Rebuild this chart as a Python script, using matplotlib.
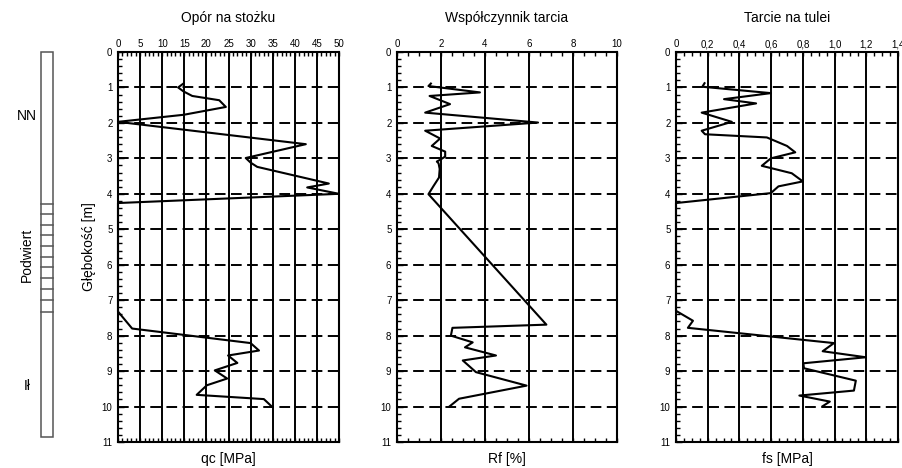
import matplotlib
matplotlib.use("Agg")
import matplotlib.pyplot as plt
from matplotlib.ticker import MultipleLocator, FixedLocator, FixedFormatter
from matplotlib.patches import Rectangle
import matplotlib.transforms as mtransforms

plt.rcParams['font.family'] = ['Liberation Sans', 'DejaVu Sans']

# ---------------- data ----------------
qc_depth = [0.89, 1.00, 1.11, 1.24, 1.36, 1.55, 1.77, 1.97, 2.60, 2.99, 3.12, 3.24,
            3.71, 3.82, 4.00, 4.26, 7.32, 7.80, 8.21, 8.42, 8.56, 8.77, 8.98, 9.21,
            9.40, 9.67, 9.79, 10.00]
qc = [14.8, 13.6, 14.8, 16.8, 22.9, 24.4, 14.9, 0.0, 42.5, 28.9, 30.0, 31.5,
      47.7, 42.8, 50.0, 0.0, 0.0, 3.2, 30.0, 31.9, 24.9, 27.0, 21.9, 24.7,
      20.1, 17.8, 33.0, 34.8]

rf_depth = [0.89, 0.96, 1.14, 1.24, 1.47, 1.71, 1.99, 2.22, 2.44, 2.65, 2.81, 2.95,
            3.04, 3.09, 3.14, 3.30, 3.54, 3.78, 4.01, 7.69, 7.78, 8.00, 8.19, 8.33,
            8.56, 8.70, 9.03, 9.41, 9.78, 10.00]
rf = [1.54, 1.43, 3.77, 1.48, 2.41, 1.28, 6.41, 1.28, 1.96, 1.58, 2.19, 2.19,
      1.96, 1.81, 1.89, 1.94, 1.91, 1.66, 1.43, 6.79, 2.52, 2.45, 3.44, 3.09,
      4.50, 2.99, 3.59, 5.89, 2.82, 2.38]

fs_depth = [0.88, 0.98, 1.16, 1.33, 1.45, 1.71, 1.97, 2.22, 2.32, 2.41, 2.65, 2.83,
            3.00, 3.21, 3.42, 3.65, 3.79, 3.98, 4.26, 7.30, 7.58, 7.78, 8.21, 8.44,
            8.61, 8.78, 8.92, 9.27, 9.55, 9.69, 9.86, 9.99]
fs = [0.180, 0.166, 0.598, 0.303, 0.505, 0.162, 0.352, 0.162, 0.183, 0.573, 0.700, 0.752,
      0.598, 0.541, 0.730, 0.800, 0.646, 0.598, 0.0, 0.0, 0.107, 0.075, 0.996, 0.925,
      1.197, 0.803, 0.807, 1.134, 1.122, 0.778, 0.970, 0.925]

layer_names = ['NN', 'Podwiert', 'Ił']
layer_label_depth = [1.80, 5.73, 9.43]
layer_label_rot = [0, 90, 0]
column_bottom = 10.85
podwiert_lines = [4.28, 4.56, 4.87, 5.17, 5.46, 5.77, 6.07, 6.38, 6.69, 7.00, 7.34]

titles = ['Opór na stożku', 'Współczynnik tarcia', 'Tarcie na tulei']
xlabels = ['qc [MPa]', 'Rf [%]', 'fs [MPa]']
xlims = [(0, 50), (0, 10), (0, 1.4)]
xmajor = [[0, 5, 10, 15, 20, 25, 30, 35, 40, 45, 50],
          [0, 2, 4, 6, 8, 10],
          [0, 0.2, 0.4, 0.6, 0.8, 1.0, 1.2, 1.4]]
xticklabels = [['0', '5', '10', '15', '20', '25', '30', '35', '40', '45', '50'],
               ['0', '2', '4', '6', '8', '10'],
               ['0', '0,2', '0,4', '0,6', '0,8', '1,0', '1,2', '1,4']]
xminor_step = [1, 0.5, 0.05]
depth_ticks = list(range(0, 12))
depth_label = 'Głębokość [m]'

# ---------------- layout ----------------
W, H = 903, 468
fig = plt.figure(figsize=(W / 100, H / 100), dpi=100)

ax_top, ax_bot = 52, 442
def rect(l, r):
    return [l / W, (H - ax_bot) / H, (r - l) / W, (ax_bot - ax_top) / H]

panel_px = [(118, 339), (397, 617), (676, 898)]
series = [(qc, qc_depth), (rf, rf_depth), (fs, fs_depth)]

axes = []
for i, (l, r) in enumerate(panel_px):
    ax = fig.add_axes(rect(l, r))
    axes.append(ax)
    ax.set_xlim(*xlims[i])
    ax.set_ylim(11, 0)
    ax.xaxis.set_major_locator(FixedLocator(xmajor[i]))
    ax.xaxis.set_major_formatter(FixedFormatter(xticklabels[i]))
    ax.xaxis.set_minor_locator(MultipleLocator(xminor_step[i]))
    ax.yaxis.set_major_locator(FixedLocator(depth_ticks))
    ax.yaxis.set_minor_locator(MultipleLocator(0.2))
    ax.tick_params(axis='x', which='both', direction='in', top=True, bottom=True,
                   labeltop=True, labelbottom=False, labelsize=7, pad=2, width=1)
    ax.tick_params(axis='x', which='minor', length=2.8)
    ax.tick_params(axis='x', which='major', length=3)
    ax.tick_params(axis='y', which='both', direction='in', left=True, right=False,
                   labelsize=7, pad=4, width=1)
    ax.tick_params(axis='y', which='minor', length=3)
    ax.tick_params(axis='y', which='major', length=4)
    ax.set_axisbelow(True)
    ax.grid(axis='x', which='major', color='black', lw=1.4, ls='-')
    ax.grid(axis='y', which='major', color='black', lw=1.4, ls=(0, (5.5, 2.8)))
    for sp in ax.spines.values():
        sp.set_linewidth(1.5)
    x, d = series[i]
    ax.plot(x, d, color='black', lw=1.5, zorder=3, clip_on=False)
    ax.text(0.5, 1 + 34 / 390, titles[i], transform=ax.transAxes,
            ha='center', va='center', fontsize=10)
    ax.text(0.5, -17 / 390, xlabels[i], transform=ax.transAxes,
            ha='center', va='center', fontsize=10)

fig.text(89 / W, 1 - 247 / H, depth_label, rotation=90, ha='center', va='center',
         fontsize=10)

# ---------------- soil column ----------------
axc = fig.add_axes(rect(41, 53))
axc.set_xlim(0, 1)
axc.set_ylim(11, 0)
axc.axis('off')
axc.add_patch(Rectangle((0, 0), 1, column_bottom, fill=False, edgecolor='#555555',
                        lw=1.1, clip_on=False))
for y in podwiert_lines:
    axc.plot([0, 1], [y, y], color='#555555', lw=1.1, clip_on=False)
trans = mtransforms.blended_transform_factory(axc.transAxes, axc.transData)
for name, yd, rot in zip(layer_names, layer_label_depth, layer_label_rot):
    axc.text(-1.17, yd, name, transform=trans, ha='center', va='center',
             fontsize=10, rotation=rot)

fig.savefig('out.png', dpi=100)
